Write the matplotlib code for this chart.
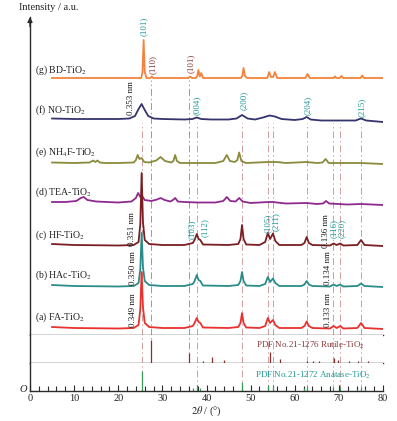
import matplotlib
matplotlib.use("Agg")
import matplotlib.pyplot as plt
from matplotlib.ticker import MultipleLocator

plt.rcParams['font.family'] = ['Liberation Serif', 'DejaVu Serif']
plt.rcParams['mathtext.fontset'] = 'stix'

# ---------------- data (intensity in a.u.) ----------------
x_abc = [5, 10, 20, 23.5, 24.6, 25.0, 25.3, 25.6, 26.0, 27, 30, 35, 36.9, 37.3, 37.8, 38.2, 38.6, 39.2,
         45, 47.2, 47.7, 48.05, 48.4, 49, 52, 53.3, 53.9, 54.4, 55.06, 55.6, 56.5, 61.5, 62.2, 62.7,
         63.2, 64, 68, 68.8, 69.5, 70.3, 71, 74.2, 75.03, 75.8, 80]
y_fa = [2, 1, 0.5, 1, 4, 20, 57, 22, 6, 2, 1, 1, 3, 6, 11, 7, 6, 1.5,
        1, 2, 6, 16, 6, 1.5, 1, 3, 11, 6, 9, 4, 1, 1, 3, 7.5,
        3, 1, 0.5, 3, 1, 3, 0.5, 1, 6, 1, 0]
y_hac = [2, 1, 0.5, 1, 4, 18, 54, 20, 6, 2, 1, 1, 3, 6, 12, 7, 6, 1.5,
         1, 2, 6, 15, 6, 1.5, 1, 3, 10, 5, 8.5, 4, 1, 1, 2.5, 6,
         2.5, 1, 0.5, 2.5, 1, 2.5, 0.5, 1, 3.5, 1, 0]
y_hf = [2, 1, 0.5, 1, 4, 22, 73, 24, 6, 2, 1, 1, 3, 6, 12, 7, 6, 1.5,
        1, 2, 7, 21, 7, 1.5, 1, 4, 13, 7, 12.5, 5, 1, 1, 3, 9,
        3, 1, 0.5, 2.5, 1, 2.5, 0.5, 1, 6, 1, 0]

x_tea = [5, 8, 10.5, 11.5, 12.2, 13, 15, 20, 23.0, 24.0, 24.5, 25.0, 25.4, 26.0, 27.5, 28.8, 29.6, 30.5,
         31.8, 32.4, 32.9, 33.5, 35, 38, 42, 43.8, 44.6, 45.4, 46.6, 47.4, 48.2, 50, 54, 55, 58, 62.7,
         65, 66.4, 67.1, 67.8, 72, 75, 80]
y_tea = [3, 3, 4, 7, 8, 5, 3.5, 2.5, 3.5, 7, 12, 8, 9, 5, 4, 5.5, 7, 5,
         3.5, 5, 7, 3.5, 3, 2.5, 2.5, 4, 8, 4, 3.5, 7, 3.5, 2, 3, 3, 1.5, 2,
         1, 1.5, 4, 1.5, 0.5, 1, 0]

x_nh4f = [5, 10, 13.5, 14.3, 14.8, 15.3, 15.8, 17, 20, 23.5, 24.0, 24.4, 24.8, 25.3, 25.9, 27, 28.6, 29.6,
          30.6, 32.0, 32.5, 32.9, 33.3, 34, 38, 42, 43.8, 44.6, 45.3, 46.4, 47.0, 47.4, 47.9, 49, 54,
          56.0, 58, 62.7, 65, 66.3, 67.0, 67.7, 70, 75, 80]
y_nh4f = [1.5, 1, 1.5, 3.5, 2, 3.5, 1.5, 1, 1, 1.5, 4, 9, 5, 6, 2, 1.5, 3.5, 7,
          3, 1.5, 3, 9, 3, 1, 1, 1, 3, 9, 3, 2, 4, 11.5, 3, 1, 2,
          2, 1, 2, 1, 1.5, 5, 1, 1, 1, 0]

x_no = [5, 10, 15, 20, 22.5, 23.8, 24.6, 25.3, 26.0, 26.8, 28, 30, 35, 36.8, 37.8, 38.8, 41, 45, 46.8,
        48.05, 49.3, 51, 52.8, 54.3, 55.5, 57, 60, 61.8, 62.7, 63.6, 66, 70, 73.8, 75.0, 76.2, 80]
y_no = [3.5, 3, 3, 3, 3.5, 6, 13, 18, 12, 6, 3.5, 3, 2.5, 3, 4.5, 3, 2.5, 2.5, 3.5,
        7, 3.5, 2.5, 4.5, 6.5, 5.5, 3, 2, 3, 5, 2.5, 1.5, 1.5, 1.5, 3.5, 1.5, 0]

x_bd = [5, 20, 25.2, 25.5, 25.75, 26.0, 26.4, 27.3, 27.6, 27.9, 35.9, 36.3, 36.7, 37.6, 37.9, 38.15,
        38.5, 38.8, 39.2, 47.8, 48.1, 48.4, 48.7, 49.2, 53.8, 54.2, 54.6, 55.1, 55.5, 56.0, 62.4, 62.9,
        63.4, 68.8, 69.1, 69.5, 70.2, 70.6, 71.0, 74.9, 75.3, 75.7, 80]
y_bd = [0, 0, 0, 6, 38, 6, 0, 0, 1.5, 0, 0, 1.5, 0, 0, 2, 8,
        1.5, 5, 0, 0, 2, 10, 2, 0, 0, 6, 1, 1, 6, 0, 0, 4,
        0, 0, 1.5, 0, 0, 2, 0, 0, 2.5, 0, 0]

curve_names = ['(a) FA-TiO$_2$', '(b) HAc-TiO$_2$', '(c) HF-TiO$_2$', '(d) TEA-TiO$_2$',
               '(e) NH$_4$F-TiO$_2$', '(f) NO-TiO$_2$', '(g) BD-TiO$_2$']

rutile_pos = [27.45, 36.09, 39.19, 41.24, 44.05, 54.32, 56.64, 62.74, 64.04, 65.48, 69.0, 69.8, 72.4, 74.4, 76.5]
rutile_int = [23, 10.5, 2.3, 6, 3, 11, 4.5, 2.5, 2.5, 2, 5, 3, 2, 2, 2.5]
anatase_pos = [25.28, 36.95, 37.8, 38.58, 48.05, 53.89, 55.06, 62.12, 62.69, 68.76, 70.31, 74.03, 75.03, 76.02]
anatase_int = [20, 3, 6.5, 3.5, 9, 6, 6, 3, 5, 4, 4, 2, 4.5, 2]

anatase_ref_lines = [25.28, 37.8, 48.05, 53.89, 55.06, 62.69, 68.76, 70.31, 75.03]
rutile_ref_lines = [27.45, 36.09]

xticks = [0, 10, 20, 30, 40, 50, 60, 70, 80]

# ---------------- figure ----------------
W_PX, H_PX = 397, 421
fig = plt.figure(figsize=(W_PX / 100, H_PX / 100), dpi=100)
L = 30 / W_PX
W = (383 - 30) / W_PX
fy = lambda ypx: 1 - ypx / H_PX

ax = fig.add_axes([L, fy(335), W, (335 - 17) / H_PX])
axr = fig.add_axes([L, fy(363), W, 28 / H_PX])
axa = fig.add_axes([L, fy(391), W, 28 / H_PX])

spine_c = '#2b2b2b'
for a in (ax, axr, axa):
    a.set_xlim(0, 80)
    for s in ('top', 'right'):
        a.spines[s].set_visible(False)
    for s in ('left', 'bottom'):
        a.spines[s].set_color(spine_c)
        a.spines[s].set_linewidth(1.0)
    a.set_yticks([])
ax.set_ylim(0, 318)
axr.set_ylim(0, 28)
axa.set_ylim(0, 28)
ax.set_xticks([])
axr.set_xticks([])

axa.xaxis.set_major_locator(MultipleLocator(10))
axa.xaxis.set_minor_locator(MultipleLocator(2))
axa.set_xticks(xticks)
axa.tick_params(axis='x', which='major', direction='in', length=4.5, width=0.8, colors=spine_c,
                labelsize=7.5, pad=2, labelcolor='#222222')
axa.tick_params(axis='x', which='minor', direction='in', length=3.5, width=0.8, colors=spine_c)

# arrow on main y axis
ax.annotate('', xy=(0, 1.0), xytext=(0, 0.97), xycoords='axes fraction',
            arrowprops=dict(arrowstyle='-|>', color=spine_c, lw=1.0, mutation_scale=7,
                            shrinkA=0, shrinkB=0))

# reference lines
pink = '#cf9f9f'
grey = '#9a9a9a'
dash = (0, (7, 3, 1.5, 3))
ax.vlines(anatase_ref_lines, 0, 212, colors=pink, linestyles=[dash], lw=0.7, zorder=0)
ax.vlines(rutile_ref_lines, 0, 255, colors=grey, linestyles=[dash], lw=0.7, zorder=0)
for xv in anatase_ref_lines:
    axr.axvline(xv, color=pink, ls=dash, lw=0.7, zorder=0)
    axa.axvline(xv, color=pink, ls=dash, lw=0.7, zorder=0)
for xv in rutile_ref_lines:
    axr.axvline(xv, color=grey, ls=dash, lw=0.7, zorder=0)

# curves (lower curves drawn on top, as in the reference)
curves = [
    (x_abc, y_fa, 6, '#e8322f'),
    (x_abc, y_hac, 48, '#2a8c88'),
    (x_abc, y_hf, 89, '#7a1e22'),
    (x_tea, y_tea, 130, '#8e2a8e'),
    (x_nh4f, y_nh4f, 171, '#8a8a3c'),
    (x_no, y_no, 213, '#34346e'),
    (x_bd, y_bd, 257, '#f4823c'),
]
label_y = [18, 60, 100, 143, 183, 225, 265]
for i, ((xs, ys, off, c), name, ly) in enumerate(zip(curves, curve_names, label_y)):
    ax.plot(xs, [v + off for v in ys], color=c, lw=1.3, zorder=10 - i, solid_joinstyle='round')
    ax.text(1.1, ly, name, fontsize=7, va='center', ha='left', color='#222222')

# annotations
teal_t = '#1f9a96'
maroon_t = '#8b3a3a'
rot_fs = 6.5
annos = [
    (25.7, 309, '(101)', teal_t), (27.8, 270, '(110)', maroon_t), (36.5, 272, '(101)', maroon_t),
    (37.8, 230, '(004)', teal_t), (48.4, 235, '(200)', teal_t), (62.9, 230, '(204)', teal_t),
    (75.2, 228, '(215)', teal_t),
    (36.7, 106, '(103)', teal_t), (39.7, 107, '(112)', teal_t),
    (53.9, 112, '(105)', teal_t), (55.8, 113, '(211)', teal_t),
    (68.8, 107, '(116)', teal_t), (70.7, 107, '(220)', teal_t),
    (22.9, 237, '0.353 nm', '#1a1a1a'), (23.2, 106, '0.351 nm', '#1a1a1a'),
    (23.4, 67, '0.350 nm', '#1a1a1a'), (23.4, 25, '0.349 nm', '#1a1a1a'),
    (67.1, 104, '0.136 nm', '#1a1a1a'), (67.5, 67, '0.134 nm', '#1a1a1a'),
    (67.5, 25, '0.133 nm', '#1a1a1a'),
]
for xv, yv, t, c in annos:
    ax.text(xv, yv, t, rotation=90, fontsize=rot_fs, color=c, ha='center', va='center', zorder=12)

# reference patterns
axr.vlines(rutile_pos, 0, rutile_int, colors='#8b2e2e', lw=0.9, zorder=2)
axa.vlines(anatase_pos, 0, anatase_int, colors='#3a9a5a', lw=0.9, zorder=2)
axr.text(63.5, 18, 'PDF No.21-1276 Rutile-TiO$_2$', fontsize=6.5, color=maroon_t, ha='center', va='center')
axa.text(64.0, 16, 'PDF No.21-1272 Anatase-TiO$_2$', fontsize=6.5, color=teal_t, ha='center', va='center')

# axis texts
fig.text(19 / W_PX, fy(7), 'Intensity / a.u.', fontsize=7.5, ha='left', va='center', color='#222222')
fig.text(23 / W_PX, fy(390), 'O', fontsize=7.5, style='italic', ha='center', va='center', color='#222222')
fig.text((30 + 383) / 2 / W_PX, fy(411), r'$2\theta$ / (°)', fontsize=7.5, ha='center', va='center',
         color='#222222')

fig.savefig('out.png', dpi=100)
